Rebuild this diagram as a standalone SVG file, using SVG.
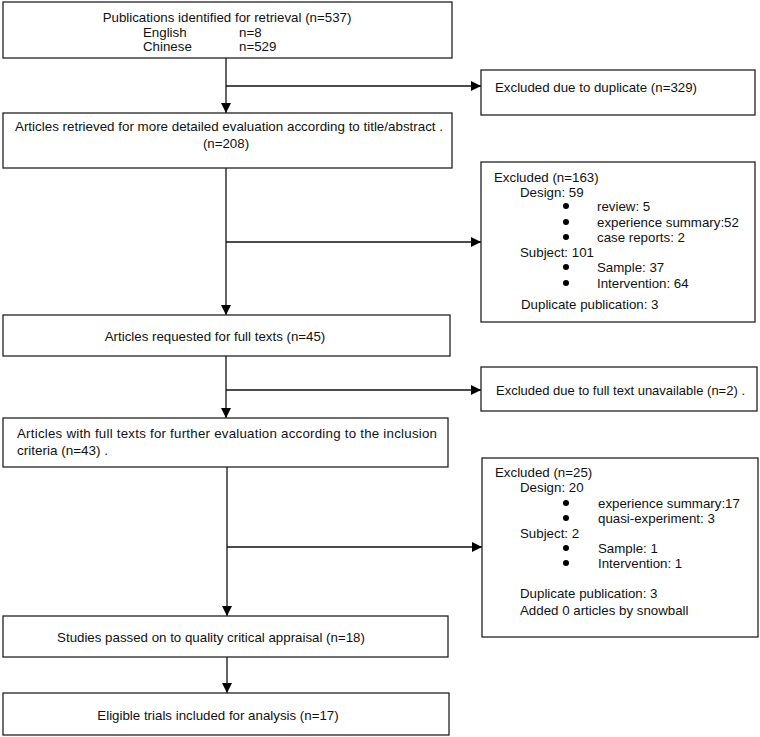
<svg xmlns="http://www.w3.org/2000/svg" width="760" height="737" viewBox="0 0 760 737">
<defs>
<marker id="ah" viewBox="0 0 10 10" refX="10" refY="5" markerWidth="10" markerHeight="10" markerUnits="userSpaceOnUse" orient="auto">
<path d="M0,0 L10,5 L0,10 Z" fill="#000"/>
</marker>
</defs>
<style>
.box{fill:#fff;stroke:#222;stroke-width:1.3}
.t{font-family:"Liberation Sans",Arial,sans-serif;font-size:13.3px;fill:#111}
.m{text-anchor:middle}
.ln{stroke:#111;stroke-width:1.3;fill:none}
.b{fill:#000}
</style>
<rect width="760" height="737" fill="#fff"/>
<g id="connectors">
<line class="ln" x1="226" y1="58" x2="226" y2="113" marker-end="url(#ah)"/>
<line class="ln" x1="226" y1="86" x2="481" y2="86" marker-end="url(#ah)"/>
<line class="ln" x1="226" y1="168" x2="226" y2="315" marker-end="url(#ah)"/>
<line class="ln" x1="226" y1="242" x2="481" y2="242" marker-end="url(#ah)"/>
<line class="ln" x1="226" y1="356" x2="226" y2="418" marker-end="url(#ah)"/>
<line class="ln" x1="226" y1="390" x2="481" y2="390" marker-end="url(#ah)"/>
<line class="ln" x1="227" y1="467" x2="227" y2="616" marker-end="url(#ah)"/>
<line class="ln" x1="227" y1="547" x2="482" y2="547" marker-end="url(#ah)"/>
<line class="ln" x1="227" y1="657" x2="227" y2="693" marker-end="url(#ah)"/>
</g>
<g id="n1">
<rect class="box" x="3" y="2" width="449" height="56"/>
<text class="t m" x="227" y="22">Publications identified for retrieval (n=537)</text>
<text class="t" x="143" y="37">English</text>
<text class="t" x="239" y="37">n=8</text>
<text class="t" x="143" y="51">Chinese</text>
<text class="t" x="239" y="51">n=529</text>
</g>
<g id="n2">
<rect class="box" x="3" y="113" width="449" height="55"/>
<text class="t m" x="229" y="131" textLength="428" lengthAdjust="spacingAndGlyphs">Articles retrieved for more detailed evaluation according to title/abstract .</text>
<text class="t m" x="226" y="148">(n=208)</text>
</g>
<g id="n3">
<rect class="box" x="3" y="315" width="447" height="41"/>
<text class="t m" x="215" y="341">Articles requested for full texts (n=45)</text>
</g>
<g id="n4">
<rect class="box" x="3" y="418" width="445" height="49"/>
<text class="t" x="17" y="438" textLength="420" lengthAdjust="spacing">Articles with full texts for further evaluation according to the inclusion</text>
<text class="t" x="17" y="455" textLength="91" lengthAdjust="spacingAndGlyphs">criteria (n=43) .</text>
</g>
<g id="n5">
<rect class="box" x="3" y="616" width="445" height="41"/>
<text class="t m" x="211" y="642">Studies passed on to quality critical appraisal (n=18)</text>
</g>
<g id="n6">
<rect class="box" x="3" y="693" width="446" height="42"/>
<text class="t m" x="218" y="720">Eligible trials included for analysis (n=17)</text>
</g>
<g id="r1">
<rect class="box" x="481" y="70" width="274" height="45"/>
<text class="t" x="495" y="92" textLength="202" lengthAdjust="spacingAndGlyphs">Excluded due to duplicate (n=329)</text>
</g>
<g id="r2">
<rect class="box" x="481" y="162" width="274" height="160"/>
<text class="t" x="494" y="182">Excluded (n=163)</text>
<text class="t" x="520" y="197">Design: 59</text>
<circle class="b" cx="566" cy="206" r="3"/>
<text class="t" x="597" y="211">review: 5</text>
<circle class="b" cx="566" cy="222" r="3"/>
<text class="t" x="597" y="227">experience summary:52</text>
<circle class="b" cx="566" cy="237" r="3"/>
<text class="t" x="597" y="242">case reports: 2</text>
<text class="t" x="520" y="257">Subject: 101</text>
<circle class="b" cx="566" cy="267" r="3"/>
<text class="t" x="597" y="272">Sample: 37</text>
<circle class="b" cx="566" cy="283" r="3"/>
<text class="t" x="597" y="288">Intervention: 64</text>
<text class="t" x="521" y="309">Duplicate publication: 3</text>
</g>
<g id="r3">
<rect class="box" x="481" y="367" width="276" height="44"/>
<text class="t" x="496" y="395" textLength="249" lengthAdjust="spacingAndGlyphs">Excluded due to full text unavailable (n=2) .</text>
</g>
<g id="r4">
<rect class="box" x="482" y="458" width="276" height="179"/>
<text class="t" x="495" y="477">Excluded (n=25)</text>
<text class="t" x="520" y="492">Design: 20</text>
<circle class="b" cx="566" cy="503" r="3"/>
<text class="t" x="598" y="508">experience summary:17</text>
<circle class="b" cx="566" cy="518" r="3"/>
<text class="t" x="598" y="523">quasi-experiment: 3</text>
<text class="t" x="520" y="538">Subject: 2</text>
<circle class="b" cx="566" cy="548" r="3"/>
<text class="t" x="598" y="553">Sample: 1</text>
<circle class="b" cx="566" cy="563" r="3"/>
<text class="t" x="598" y="568">Intervention: 1</text>
<text class="t" x="520" y="598">Duplicate publication: 3</text>
<text class="t" x="520" y="615">Added 0 articles by snowball</text>
</g>
</svg>
